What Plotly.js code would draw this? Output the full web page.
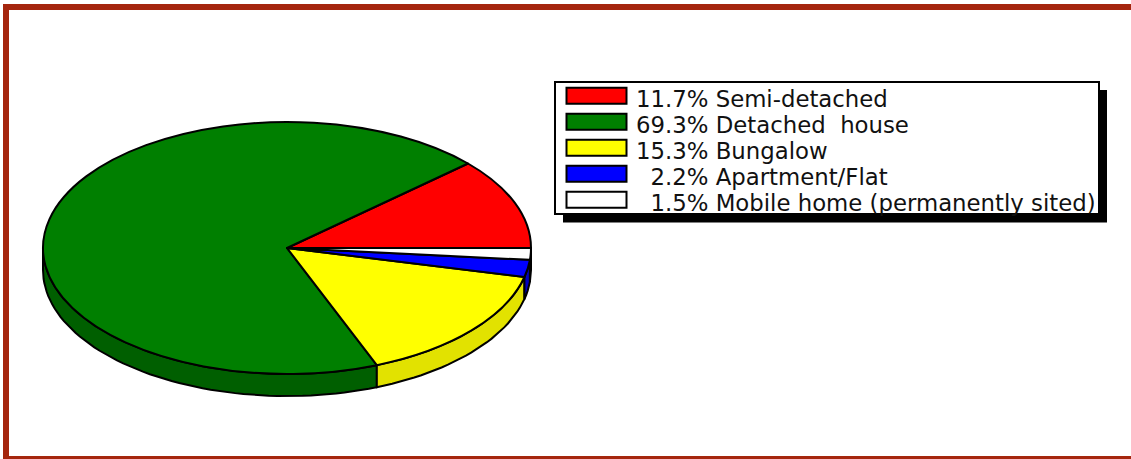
<!DOCTYPE html>
<html>
<head>
<meta charset="utf-8">
<script src="https://cdn.plot.ly/plotly-3.0.1.min.js"></script>
<style>html,body{margin:0;padding:0;background:#fff;overflow:hidden}#chart{width:1131px;height:459px}</style>
</head>
<body>
<div id="chart"></div>
<script>
const categories = ["Semi-detached", "Detached\u00A0\u00A0house", "Bungalow", "Apartment/Flat", "Mobile home (permanently sited)"];
const shares = [11.7, 69.3, 15.3, 2.2, 1.5];
const topColors = ["#FF0000", "#007F00", "#FFFF00", "#0000FF", "#FFFFFF"];
const wallColors = ["#BF0000", "#005F00", "#E2E200", "#0000BF", "#BFBFBF"];

const W = 1131, H = 459;
const CX = 287, CY = 248, RX = 244, RY = 126, DEPTH = 22;
const FRAME = "#A5260E";
const LINE_W = 2;
const FONT = "'DejaVu Sans', Verdana, sans-serif";

const labels = categories.map((c, i) => {
  const p = shares[i].toFixed(1) + "%";
  return (shares[i] < 10 ? "\u00A0\u00A0" : "") + p + " " + c;
});

const total = shares.reduce((a, b) => a + b, 0);
const traces = [];
let acc = 0;
shares.forEach((v, i) => {
  const a0 = acc / total * 360, a1 = (acc + v) / total * 360;
  acc += v;
  const from = Math.max(a0, 180), to = Math.min(a1, 360);
  if (to <= from) return;
  const n = Math.max(2, Math.ceil((to - from) / 2));
  const xs = [], ys = [];
  for (let k = 0; k <= n; k++) {
    const t = (from + (to - from) * k / n) * Math.PI / 180;
    xs.push(CX + RX * Math.cos(t)); ys.push(CY - RY * Math.sin(t));
  }
  for (let k = n; k >= 0; k--) {
    const t = (from + (to - from) * k / n) * Math.PI / 180;
    xs.push(CX + RX * Math.cos(t)); ys.push(CY - RY * Math.sin(t) + DEPTH);
  }
  xs.push(xs[0]); ys.push(ys[0]);
  traces.push({
    type: "scatter", mode: "lines", x: xs, y: ys, fill: "toself",
    fillcolor: wallColors[i], line: {color: "#000", width: LINE_W},
    showlegend: false, hoverinfo: "skip"
  });
});

traces.push({
  type: "pie", labels: labels, values: shares, sort: false,
  direction: "counterclockwise", rotation: 90 - shares[0] / total * 360, textinfo: "none",
  marker: {colors: topColors, line: {color: "#000", width: LINE_W}},
  domain: {x: [0, 1], y: [0, 1]}, showlegend: true, hoverinfo: "label"
});

const rect = (x0, y0, x1, y1, color) => ({
  type: "rect", xref: "x", yref: "y", x0, y0, x1, y1, layer: "below",
  fillcolor: color, line: {width: 0}
});

const layout = {
  width: W, height: H, margin: {l: 0, r: 0, t: 0, b: 0},
  paper_bgcolor: "#fff", plot_bgcolor: "#fff",
  xaxis: {range: [0, W], visible: false, fixedrange: true},
  yaxis: {range: [H, 0], visible: false, fixedrange: true},
  font: {family: FONT, color: "#111"},
  legend: {
    x: 554 / W, y: 1 - 81 / H, xanchor: "left", yanchor: "top",
    bgcolor: "#fff", bordercolor: "#000", borderwidth: 2,
    font: {size: 22.8, family: FONT, color: "#111"},
    itemwidth: 68, traceorder: "normal", itemclick: false, itemdoubleclick: false
  },
  shapes: [
    rect(563, 90, 1107, 222.5, "#000"),
    rect(3, 4, W, 10, FRAME),
    rect(3, 4, 9, H, FRAME),
    rect(3, 456, W, H, FRAME)
  ]
};

const gd = document.getElementById("chart");
Plotly.newPlot(gd, traces, layout, {displayModeBar: false, responsive: false}).then(() => {
  const cd0 = gd.calcdata.find(c => c[0].trace.type === "pie")[0];
  const sx = RX / cd0.r, sy = RY / cd0.r;
  gd.querySelectorAll(".pielayer .trace").forEach(g => {
    g.setAttribute("transform",
      `translate(${CX},${CY}) scale(${sx},${sy}) translate(${-cd0.cx},${-cd0.cy})`);
  });
  gd.querySelectorAll(".pielayer path.surface").forEach(p => {
    p.style.vectorEffect = "non-scaling-stroke";
  });
  gd.querySelectorAll(".legend path.legendpie").forEach(p => {
    p.setAttribute("d", "M-30,-8H30V8H-30Z");
    p.setAttribute("transform", "translate(40.5,0)");
  });
  gd.querySelectorAll(".legend .traces").forEach((g, i) => {
    const m = /translate\(([-\d.]+)/.exec(g.getAttribute("transform") || "");
    g.setAttribute("transform", `translate(${m ? m[1] : 1},${14.8 + 26 * i})`);
  });
  gd.querySelectorAll(".legend text.legendtext").forEach(t => {
    t.setAttribute("transform", "translate(2,2)");
  });
  const bg = gd.querySelector(".legend rect.bg");
  bg.setAttribute("width", 544);
  bg.setAttribute("height", 132);
});
</script>
</body>
</html>
